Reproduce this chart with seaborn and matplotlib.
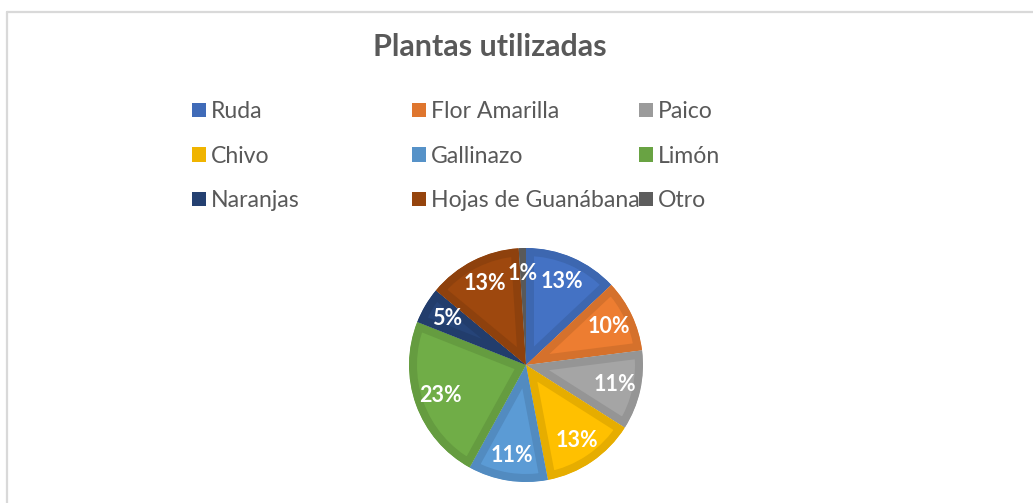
import matplotlib
matplotlib.use("Agg")
import matplotlib.pyplot as plt
import matplotlib.colors as mcolors
from matplotlib.lines import Line2D
import seaborn as sns

# data
plantas = ["Ruda", "Flor Amarilla", "Paico", "Chivo", "Gallinazo",
           "Limón", "Naranjas", "Hojas de Guanábana", "Otro"]
porcentajes = [13, 10, 11, 13, 11, 23, 5, 13, 1]
colores = ["#4472C4", "#ED7D31", "#A5A5A5", "#FFC000", "#5B9BD5",
           "#70AD47", "#264478", "#9E480E", "#636363"]
titulo = "Plantas utilizadas"

sns.set_theme(style="white")
plt.rcParams["font.family"] = ["Lato", "DejaVu Sans"]

fig = plt.figure(figsize=(10.33, 5.03), dpi=100)
W, H = 1033, 503

# chart frame (light gray, top and left edges visible)
fig.add_artist(Line2D([6.5 / W, 6.5 / W], [0, 1 - 12 / H], transform=fig.transFigure,
                      color="#d9d9d9", lw=1.6))
fig.add_artist(Line2D([6.5 / W, 1], [1 - 12 / H, 1 - 12 / H], transform=fig.transFigure,
                      color="#d9d9d9", lw=1.6))

fig.text(490 / W, 1 - 47 / H, titulo, ha="center", va="center",
         fontsize=22, fontweight="bold", color="#595959")

# pie axes
cx, cy, r = 526, 365, 117
ax = fig.add_axes([(cx - r) / W, (H - cy - r) / H, 2 * r / W, 2 * r / H])

def oscuro(c, f=0.9):
    rgb = mcolors.to_rgb(c)
    return tuple(v * f for v in rgb)

wedges, texts, autotexts = ax.pie(
    porcentajes, colors=colores, startangle=90, counterclock=False,
    autopct=lambda p: f"{p:.0f}%", pctdistance=0.78,
    wedgeprops=dict(linewidth=0),
    textprops=dict(color="white", fontsize=15.5, fontweight="bold"))
# darker inner band along each slice edge (stroke clipped to the slice)
for w, c in zip(wedges, colores):
    w.set_edgecolor(oscuro(c))
    w.set_linewidth(11.5)
    w.set_joinstyle("miter")
    w.set_clip_on(True)
    w.set_clip_path(w)
ax.set_xlim(-1, 1)
ax.set_ylim(-1, 1)
ax.set_aspect("equal")
ax.axis("off")

# legend, three columns filled row by row
col_x = [192, 412, 639]
for j, x in enumerate(col_x):
    idx = list(range(j, len(plantas), 3))
    handles = [plt.Rectangle((0, 0), 1, 1, facecolor=oscuro(colores[i], 0.94), edgecolor="none")
               for i in idx]
    fig.legend(handles, [plantas[i] for i in idx], loc="upper left",
               bbox_to_anchor=(x / W, 1 - 101 / H), frameon=False,
               fontsize=16.6, labelcolor="#595959", handlelength=0.6, handleheight=0.6,
               handletextpad=0.22, labelspacing=1.02, borderpad=0, borderaxespad=0)

fig.savefig("out.png", dpi=100, facecolor="white")
